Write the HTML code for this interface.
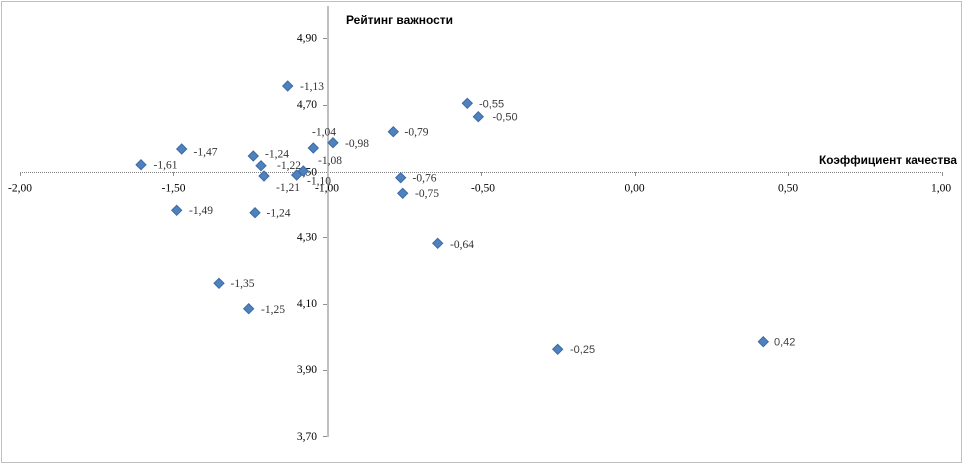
<!DOCTYPE html>
<html><head><meta charset="utf-8"><style>
html,body{margin:0;padding:0;background:#fff;}
svg{display:block;}
.t{font-family:"Liberation Serif",serif;font-size:11.5px;fill:#000;}
.d{font-family:"Liberation Serif",serif;font-size:11.5px;fill:#333;}
.s{font-family:"Liberation Sans",sans-serif;font-size:11px;fill:#404040;}
.h{font-family:"Liberation Sans",sans-serif;font-size:12px;font-weight:bold;fill:#000;}
</style></head><body>
<svg width="963" height="464" viewBox="0 0 963 464" xmlns="http://www.w3.org/2000/svg">
<defs>
<path id="m" d="M0,-5 L5,0 L0,5 L-5,0 Z" fill="#4F81BD" stroke="#3A6AA6" stroke-width="1"/>
</defs>
<rect x="1.5" y="1.5" width="960" height="461" fill="none" stroke="#808080" stroke-width="1" stroke-dasharray="1 1"/>
<!-- horizontal axis -->
<line x1="20" y1="172.5" x2="942" y2="172.5" stroke="#808080" stroke-width="1" stroke-dasharray="1 1"/>
<g stroke="#909090" stroke-width="1">
<line x1="20.5" y1="172" x2="20.5" y2="176"/>
<line x1="173.5" y1="172" x2="173.5" y2="176"/>
<line x1="481.5" y1="172" x2="481.5" y2="176"/>
<line x1="635.5" y1="172" x2="635.5" y2="176"/>
<line x1="788.5" y1="172" x2="788.5" y2="176"/>
<line x1="942.5" y1="172" x2="942.5" y2="176"/>
</g>
<!-- vertical axis -->
<line x1="328" y1="6" x2="328" y2="437" stroke="#c0c0c0" stroke-width="2"/>
<g stroke="#909090" stroke-width="1">
<line x1="323" y1="38.5" x2="327" y2="38.5"/>
<line x1="323" y1="105.5" x2="327" y2="105.5"/>
<line x1="323" y1="237.5" x2="327" y2="237.5"/>
<line x1="323" y1="304.5" x2="327" y2="304.5"/>
<line x1="323" y1="370.5" x2="327" y2="370.5"/>
<line x1="323" y1="436.5" x2="327" y2="436.5"/>
</g>
<!-- y tick labels -->
<g class="t" text-anchor="end" dominant-baseline="central">
<text x="317" y="38.5">4,90</text>
<text x="317" y="105">4,70</text>
<text x="317" y="172.5">4,50</text>
<text x="317" y="237.5">4,30</text>
<text x="317" y="304">4,10</text>
<text x="317" y="370">3,90</text>
<text x="317" y="437">3,70</text>
</g>
<!-- x tick labels -->
<g class="t" text-anchor="middle" dominant-baseline="central">
<text x="20" y="188.5">-2,00</text>
<text x="173.5" y="188.5">-1,50</text>
<text x="327" y="188.5">-1,00</text>
<text x="483" y="188.5">-0,50</text>
<text x="634.5" y="188.5">0,00</text>
<text x="788" y="188.5">0,50</text>
<text x="941" y="188.5">1,00</text>
</g>
<!-- axis titles -->
<text class="h" x="346" y="20" dominant-baseline="central" textLength="107" lengthAdjust="spacingAndGlyphs">Рейтинг важности</text>
<text class="h" x="819" y="160" dominant-baseline="central" textLength="138" lengthAdjust="spacingAndGlyphs">Коэффициент качества</text>
<!-- markers -->
<use href="#m" x="287.7" y="86"/>
<use href="#m" x="393.3" y="131.7"/>
<use href="#m" x="313.3" y="148"/>
<use href="#m" x="333" y="142.7"/>
<use href="#m" x="181.7" y="149"/>
<use href="#m" x="253.3" y="156"/>
<use href="#m" x="141" y="164.7"/>
<use href="#m" x="261" y="165.7"/>
<use href="#m" x="264" y="176"/>
<use href="#m" x="296.7" y="175"/>
<use href="#m" x="303.3" y="171"/>
<use href="#m" x="176.7" y="210.3"/>
<use href="#m" x="255" y="212.7"/>
<use href="#m" x="400.7" y="177.7"/>
<use href="#m" x="402.7" y="193.3"/>
<use href="#m" x="467.3" y="103.3"/>
<use href="#m" x="478.3" y="116.7"/>
<use href="#m" x="437.7" y="243.3"/>
<use href="#m" x="219" y="283.3"/>
<use href="#m" x="248.7" y="308.7"/>
<use href="#m" x="557.7" y="349.3"/>
<use href="#m" x="763.3" y="341.7"/>
<!-- data labels -->
<g class="d" dominant-baseline="central">
<text x="300" y="87">-1,13</text>
<text x="404.5" y="132.5">-0,79</text>
<text x="312" y="132.5">-1,04</text>
<text x="345" y="144">-0,98</text>
<text x="193.5" y="152.5">-1,47</text>
<text x="265" y="154.5">-1,24</text>
<text x="153.5" y="165.5">-1,61</text>
<text x="277" y="166">-1,22</text>
<text x="276" y="188">-1,21</text>
<text x="307" y="181.5">-1,10</text>
<text x="318" y="161">-1,08</text>
<text x="189" y="211">-1,49</text>
<text x="266.5" y="213.5">-1,24</text>
<text x="412.5" y="178.5">-0,76</text>
<text x="415" y="194">-0,75</text>
<text x="450" y="245">-0,64</text>
<text x="230.5" y="284">-1,35</text>
<text x="261" y="310">-1,25</text>
</g>
<g class="s" dominant-baseline="central">
<text x="479" y="104.5">-0,55</text>
<text x="492.5" y="117.5">-0,50</text>
<text x="570" y="350">-0,25</text>
<text x="774" y="342.5">0,42</text>
</g>
</svg>
</body></html>
